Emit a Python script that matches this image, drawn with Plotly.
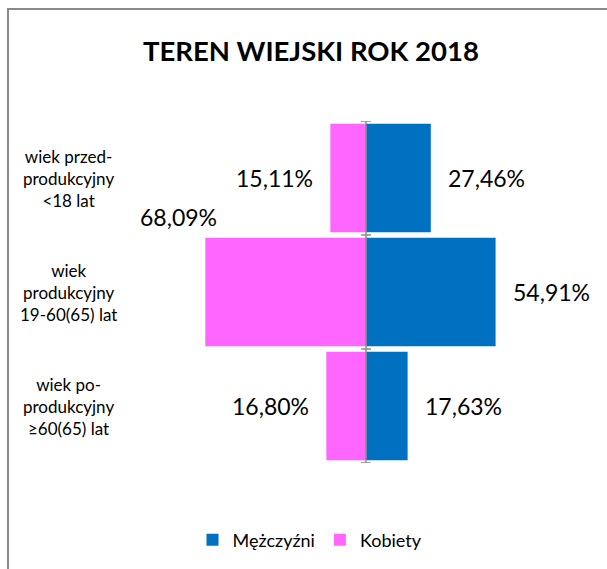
import plotly.graph_objects as go

categories = ["wiek po-<br>produkcyjny<br>≥60(65) lat",
              "wiek<br>produkcyjny<br>19-60(65) lat",
              "wiek przed-<br>produkcyjny<br><18 lat"]
men = [17.63, 54.91, 27.46]
women = [16.80, 68.09, 15.11]
men_labels = ["17,63%", "54,91%", "27,46%"]
women_labels = ["16,80%", "68,09%", "15,11%"]
title_text = "TEREN WIEJSKI ROK 2018"

W, H = 607, 569
BLUE = "#0070C0"
PINK = "#FF66FF"
FONT = "Lato"
cx = 366          # pixel of zero
ppu = 2.36        # pixels per percent
xmin = -cx / ppu
xmax = (W - cx) / ppu
ypix_top, ypix_bot = 121, 463

ypos = list(range(len(categories)))

fig = go.Figure()
fig.add_trace(go.Bar(y=ypos, x=men, orientation="h", name="Mężczyźni",
                     marker=dict(color=BLUE, line=dict(width=0))))
fig.add_trace(go.Bar(y=ypos, x=[-v for v in women], orientation="h", name="Kobiety",
                     marker=dict(color=PINK, line=dict(width=0))))

ann = []
off = 56 / ppu
lab_font = dict(family=FONT, size=23, color="#000")
for i, (m, w) in enumerate(zip(men, women)):
    ann.append(dict(x=m + off, y=i, xref="x", yref="y", text=men_labels[i],
                    xanchor="center", yanchor="middle", showarrow=False, font=lab_font))
    if i == 1:
        ann.append(dict(x=-w, y=i, xref="x", yref="y", text=women_labels[i],
                        xanchor="center", yanchor="middle",
                        showarrow=False, xshift=-27, yshift=75, font=lab_font))
    else:
        ann.append(dict(x=-w - off, y=i, xref="x", yref="y", text=women_labels[i],
                        xanchor="center", yanchor="middle", showarrow=False, font=lab_font))
    ann.append(dict(x=68 / W, y=i, xref="paper", yref="y", text=categories[i],
                    xanchor="center", yanchor="middle",
                    showarrow=False, align="center",
                    font=dict(family=FONT, size=17, color="#000")))

ann.append(dict(x=311 / W, y=1 - 50 / H, xref="paper", yref="paper",
                text="<b>" + title_text + "</b>", xanchor="center", yanchor="middle",
                showarrow=False, font=dict(family=FONT, size=27.5, color="#000")))

shapes = [
    dict(type="rect", xref="paper", yref="paper", x0=8 / W, x1=1.02, y0=-0.02, y1=1 - 9 / H,
         line=dict(color="#8a8a8a", width=2), fillcolor="rgba(0,0,0,0)", layer="above"),
    dict(type="line", xref="x", yref="y", x0=0, x1=0, y0=-0.5, y1=2.5,
         line=dict(color="#8c8c8c", width=1.5), layer="above"),
]
tl = 5 / ppu
for b in [-0.5, 0.5, 1.5, 2.5]:
    shapes.append(dict(type="line", xref="x", yref="y", x0=-tl, x1=tl, y0=b, y1=b,
                       line=dict(color="#8c8c8c", width=1.5), layer="above"))

fig.update_layout(
    width=W, height=H, margin=dict(l=0, r=0, t=0, b=0),
    paper_bgcolor="white", plot_bgcolor="white",
    barmode="relative", bargap=0.05,
    xaxis=dict(range=[xmin, xmax], domain=[0, 1], visible=False, fixedrange=True),
    yaxis=dict(range=[-0.5, 2.5], domain=[(H - ypix_bot) / H, (H - ypix_top) / H],
               visible=False, fixedrange=True),
    showlegend=True,
    legend=dict(orientation="h", x=310 / W, xanchor="center", y=1 - 540 / H, yanchor="middle",
                font=dict(family=FONT, size=18, color="#000"), traceorder="normal",
                itemwidth=30, bgcolor="rgba(0,0,0,0)"),
    annotations=ann, shapes=shapes,
)

fig.write_html("out.html", config={"displayModeBar": False},
               post_script="document.body.style.margin='0px';")
